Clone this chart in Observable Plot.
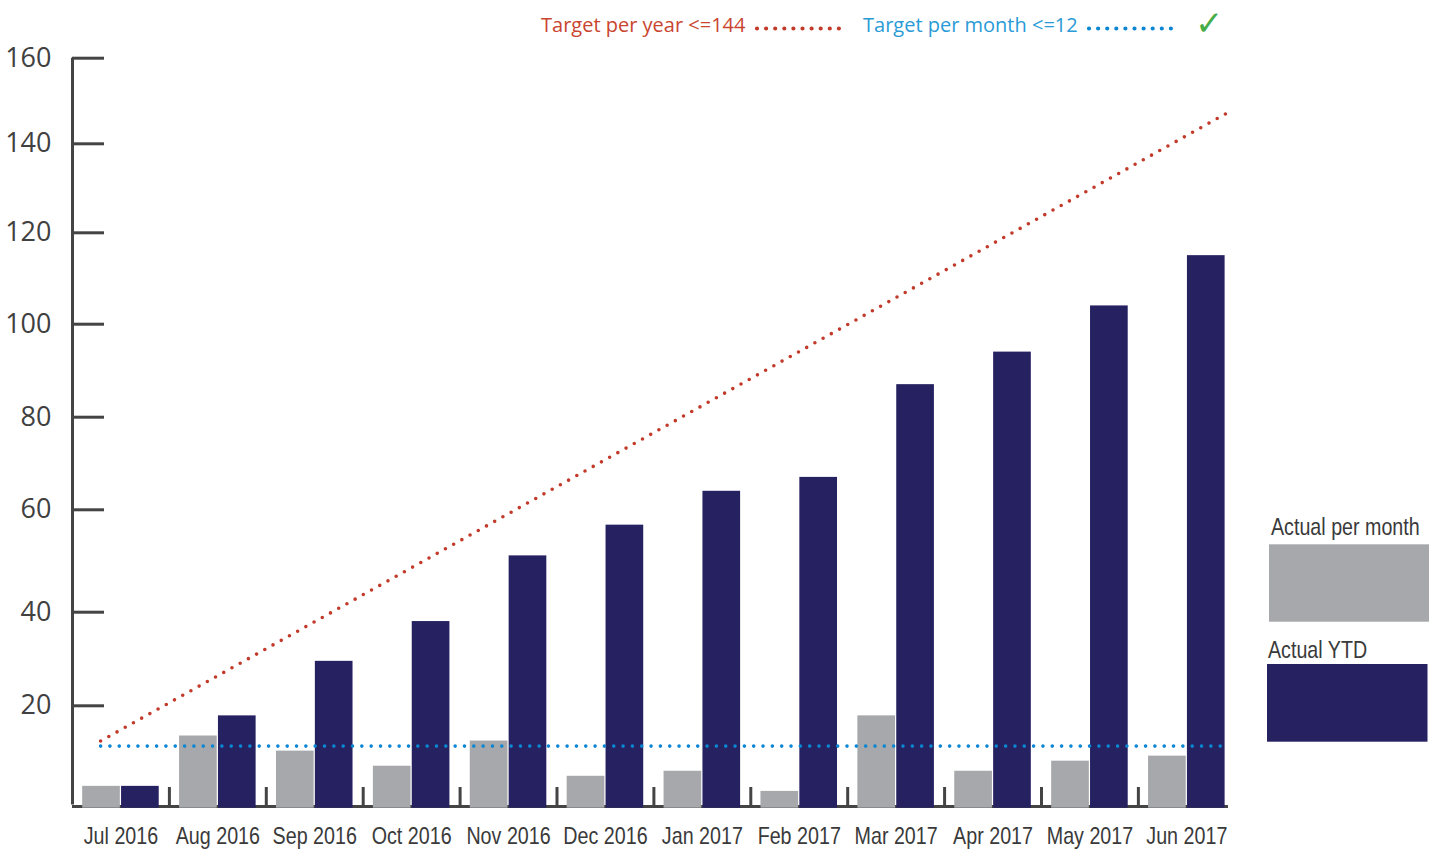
<!DOCTYPE html>
<html>
<head>
<meta charset="utf-8">
<script src="https://cdn.jsdelivr.net/npm/d3@7"></script>
<script src="https://cdn.jsdelivr.net/npm/@observablehq/plot@0.6"></script>
<style>
  html, body { margin: 0; padding: 0; background: #fff; }
  #wrap { position: relative; width: 1440px; height: 850px; overflow: hidden; }
  #toplegend { display: block; }
  #chart svg { display: block; }
  #side { position: absolute; left: 0; top: 0; }
</style>
</head>
<body>
<div id="wrap">
  <svg id="toplegend" width="1440" height="46"></svg>
  <div id="chart"></div>
  <svg id="side" width="1440" height="850" style="pointer-events:none"></svg>
</div>
<script>
// ---------- data ----------
const months = ["Jul 2016", "Aug 2016", "Sep 2016", "Oct 2016", "Nov 2016", "Dec 2016",
                "Jan 2017", "Feb 2017", "Mar 2017", "Apr 2017", "May 2017", "Jun 2017"];
const actualPerMonth = [4, 14, 11, 8, 13, 6, 7, 3, 18, 7, 9, 10];
const actualYTD = [4, 18, 29.5, 38, 51, 57, 64, 67, 87, 94, 104, 115];
const yTicks = [20, 40, 60, 80, 100, 120, 140, 160];
const yTickLevels = [0, 20, 40, 60, 80, 100, 120, 140, 160];
// target lines, as drawn (month-index position, value)
const targetYearX = [-0.21, 11.4];
const targetYearY = [13, 147];
const targetMonthX = [-0.21, 11.37];
const targetMonthY = [12, 12];
const legendTop = ["Target per year <=144", "Target per month <=12"];
const legendSide = ["Actual per month", "Actual YTD"];

// ---------- styles ----------
const GREY = "#a7a8ab", NAVY = "#262262", RED = "#c23a2a", BLUE = "#0a86d2";
const RED_TXT = "#c9452f", BLUE_TXT = "#2a9bd6", AXIS = "#444444";
const NARROW = "'Liberation Sans', Arial, sans-serif";
const NARROW_FACTOR = 0.82; // emulate a condensed face

const rows = months.map((m, i) => ({i, m, pm: actualPerMonth[i], ytd: actualYTD[i]}));
const boundaries = months.slice(1).map((_, i) => i + 0.5);
const yearLine = targetYearX.map((x, k) => ({x, y: targetYearY[k]}));
const monthLine = targetMonthX.map((x, k) => ({x, y: targetMonthY[k]}));

const chart = Plot.plot({
  width: 1440,
  height: 804,
  marginLeft: 72,
  marginRight: 212,
  marginTop: 11.7,
  marginBottom: 44,
  style: {background: "transparent", overflow: "visible"},
  x: {type: "linear", domain: [-0.5, 11.43], axis: null},
  y: {type: "linear", domain: yTickLevels,
      range: [760, 659.3, 565.7, 463.3, 370.7, 277.7, 186.3, 97.3, 11.7], axis: null},
  marks: [
    // baseline & axis
    Plot.ruleY([0], {stroke: AXIS, strokeWidth: 3}),
    Plot.ruleX([-0.5], {y1: 0, y2: 160, stroke: AXIS, strokeWidth: 3, insetTop: -1.5}),
    Plot.ruleY(yTicks, {x1: -0.5, x2: -0.5, insetRight: -32, stroke: AXIS, strokeWidth: 3}),
    Plot.ruleX(boundaries, {y1: 0, y2: 0, insetTop: -19, stroke: AXIS, strokeWidth: 3}),
    // bars
    Plot.rect(rows, {x1: d => d.i - 0.395, x2: d => d.i, y1: 0, y2: "pm",
                     fill: GREY, insetRight: 0.6, insetBottom: -1.7}),
    Plot.rect(rows, {x1: d => d.i, x2: d => d.i + 0.395, y1: 0, y2: "ytd",
                     fill: NAVY, insetLeft: 0.6, insetBottom: -1.7}),
    // target lines
    Plot.line(yearLine, {x: "x", y: "y", stroke: RED, strokeWidth: 3.6,
                         strokeDasharray: "0 9.4", strokeLinecap: "round"}),
    Plot.line(monthLine, {x: "x", y: "y", stroke: BLUE, strokeWidth: 3.6,
                          strokeDasharray: "0 9.33", strokeLinecap: "round"}),
    // y tick labels
    Plot.text(yTicks, {x: -0.5, y: d => d, text: d => String(d), textAnchor: "end", dx: -21,
                       fontSize: 27, fontFamily: "'Open Sans', sans-serif", fill: "#404040"}),
    // x labels
    Plot.text(rows, {x: "i", y: 0, text: "m", dy: 30, fontSize: 24, fontFamily: NARROW,
                     fill: "#3a3a3a"})
  ]
});
document.getElementById("chart").appendChild(chart);

function condense(sel) {
  sel.each(function () {
    const w = this.getComputedTextLength();
    this.setAttribute("textLength", (w * NARROW_FACTOR).toFixed(1));
    this.setAttribute("lengthAdjust", "spacingAndGlyphs");
  });
}
condense(d3.select(chart).selectAll("text").filter(function () {
  return months.includes(this.textContent);
}));

// ---------- top legend ----------
const topSvg = d3.select("#toplegend");
const topItems = [
  {text: legendTop[0], x: 541, color: RED_TXT, dot: RED, d1: 757, d2: 847},
  {text: legendTop[1], x: 863, color: BLUE_TXT, dot: BLUE, d1: 1089, d2: 1179}
];
topItems.forEach(it => {
  topSvg.append("text").attr("x", it.x).attr("y", 31.7).text(it.text)
    .attr("fill", it.color).attr("font-size", 20).attr("font-family", "'Open Sans', sans-serif");
  topSvg.append("line").attr("x1", it.d1).attr("x2", it.d2).attr("y1", 28.5).attr("y2", 28.5)
    .attr("stroke", it.dot).attr("stroke-width", 4.2).attr("stroke-linecap", "round")
    .attr("stroke-dasharray", "0 9.1");
});
topSvg.append("text").attr("x", 1195).attr("y", 35).text("\u2713")
  .attr("fill", "#45ad48").attr("font-size", 34).attr("font-weight", "bold")
  .attr("font-family", "'DejaVu Sans', sans-serif");

// ---------- side legend ----------
const sideSvg = d3.select("#side");
const sideItems = [
  {text: legendSide[0], tx: 1271, ty: 535, fill: GREY, rx: 1269, ry: 544.3, rw: 160, rh: 77.4},
  {text: legendSide[1], tx: 1268, ty: 658.3, fill: NAVY, rx: 1267, ry: 664, rw: 160.5, rh: 77.7}
];
sideItems.forEach(it => {
  sideSvg.append("text").attr("x", 0).attr("y", 0).text(it.text)
    .attr("transform", `translate(${it.tx},${it.ty}) scale(${NARROW_FACTOR},1)`)
    .attr("fill", "#3a3a3a").attr("font-size", 24).attr("font-family", NARROW);
  sideSvg.append("rect").attr("x", it.rx).attr("y", it.ry).attr("width", it.rw).attr("height", it.rh)
    .attr("fill", it.fill);
});
</script>
</body>
</html>
